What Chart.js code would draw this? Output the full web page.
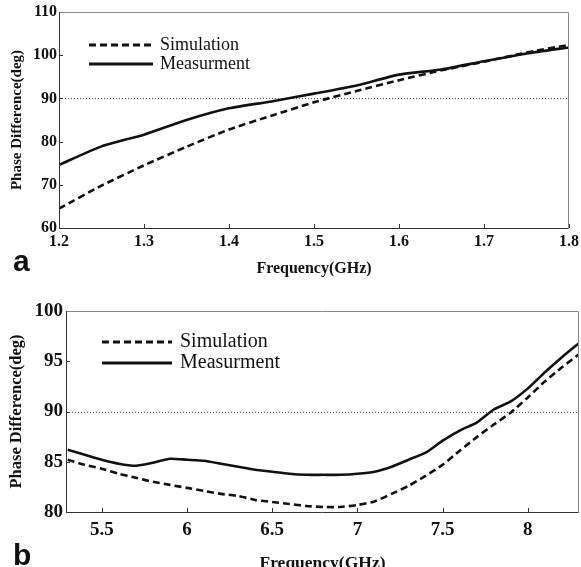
<!DOCTYPE html>
<html lang="en">
<head>
<meta charset="UTF-8">
<title>Phase Difference</title>
<script src="https://cdn.jsdelivr.net/npm/chart.js"></script>
<style>
    html, body { margin: 0; padding: 0; background: #fff; overflow: hidden; }
    .painel { position: absolute; left: 0; width: 581px; height: 290px; }
    .letra { position: absolute; font: bold 30px "Liberation Sans", Arial, sans-serif; line-height: 1; color: #111; }
</style>
</head>
<body>
<div class="painel" style="top:0"><canvas id="graficoA" width="581" height="290"></canvas></div>
<div class="painel" style="top:290px"><canvas id="graficoB" width="581" height="290"></canvas></div>
<div class="letra" style="left:13px;top:246px">a</div>
<div class="letra" style="left:13px;top:540px">b</div>
<script>
    // (a) banda 1.2 - 1.8 GHz
    const freqA = [1.2, 1.25, 1.3, 1.35, 1.4, 1.45, 1.5, 1.55, 1.6, 1.65, 1.7, 1.75, 1.8];
    const simA  = [64.5, 69.8, 74.5, 78.8, 82.8, 86.0, 89.1, 91.7, 94.2, 96.5, 98.5, 100.6, 102.4];
    const medA  = [74.6, 78.9, 81.6, 85.0, 87.7, 89.3, 91.1, 93.0, 95.5, 96.7, 98.6, 100.4, 101.8];
    const ticksXA = [1.2, 1.3, 1.4, 1.5, 1.6, 1.7, 1.8];
    const ticksYA = [60, 70, 80, 90, 100, 110];

    // (b) banda 5.3 - 8.3 GHz
    const freqB = [5.3, 5.4, 5.5, 5.6, 5.7, 5.8, 5.9, 6.0, 6.1, 6.2, 6.3, 6.4, 6.5, 6.6, 6.7, 6.8,
                   6.9, 7.0, 7.1, 7.2, 7.3, 7.4, 7.5, 7.6, 7.7, 7.8, 7.9, 8.0, 8.1, 8.2, 8.3];
    const simB  = [85.2, 84.7, 84.3, 83.8, 83.4, 83.0, 82.7, 82.4, 82.1, 81.8, 81.6, 81.2, 81.0, 80.8, 80.6, 80.5,
                   80.5, 80.7, 81.05, 81.8, 82.6, 83.6, 84.7, 86.1, 87.45, 88.7, 89.9, 91.4, 93.0, 94.4, 95.7];
    const medB  = [86.2, 85.7, 85.2, 84.8, 84.6, 84.9, 85.3, 85.2, 85.1, 84.8, 84.5, 84.2, 84.0, 83.8, 83.7, 83.7,
                   83.7, 83.8, 84.0, 84.5, 85.2, 85.9, 87.1, 88.1, 88.9, 90.2, 91.0, 92.3, 93.9, 95.4, 96.8];
    const ticksXB = [5.5, 6, 6.5, 7, 7.5, 8];
    const ticksYB = [80, 85, 90, 95, 100];

    const nomes = ['Simulation', 'Measurment'];
    const linhaRef = 90;

    const SERIF = '"Liberation Serif", "Times New Roman", serif';

    function pontos(xs, ys) {
        return xs.map((x, i) => ({ x: x, y: ys[i] }));
    }

    // moldura, linha pontilhada em 90, ticks internos e legenda
    const molduraPlugin = {
        id: 'moldura',
        beforeDatasetsDraw(chart, args, o) {
            const { ctx, chartArea: a, scales } = chart;
            ctx.save();
            const y = Math.round(scales.y.getPixelForValue(o.ref)) + 0.5;
            ctx.strokeStyle = '#555';
            ctx.lineWidth = 1;
            ctx.setLineDash([1, 2]);
            ctx.beginPath();
            ctx.moveTo(a.left, y);
            ctx.lineTo(a.right, y);
            ctx.stroke();
            ctx.setLineDash([]);
            ctx.strokeStyle = '#333';
            ctx.beginPath();
            scales.x.ticks.forEach(t => {
                const x = Math.round(scales.x.getPixelForValue(t.value)) + 0.5;
                ctx.moveTo(x, a.bottom);
                ctx.lineTo(x, a.bottom - 4);
            });
            scales.y.ticks.forEach(t => {
                const yy = Math.round(scales.y.getPixelForValue(t.value)) + 0.5;
                ctx.moveTo(a.left, yy);
                ctx.lineTo(a.left + 4, yy);
            });
            ctx.stroke();
            ctx.restore();
        },
        afterDraw(chart, args, o) {
            const { ctx, chartArea: a } = chart;
            ctx.save();
            const l = Math.round(a.left) + 0.5, r = Math.round(a.right) - 0.5;
            const t = Math.round(a.top) + 0.5, b = Math.round(a.bottom) + 0.5;
            ctx.lineWidth = 1;
            ctx.strokeStyle = '#888';
            ctx.beginPath();
            ctx.moveTo(l, t); ctx.lineTo(r, t); ctx.lineTo(r, b);
            ctx.stroke();
            ctx.strokeStyle = '#333';
            ctx.beginPath();
            ctx.moveTo(l, t); ctx.lineTo(l, b); ctx.lineTo(r, b);
            ctx.stroke();

            // legenda
            ctx.font = o.legFont + 'px ' + SERIF;
            ctx.textBaseline = 'middle';
            ctx.fillStyle = '#111';
            chart.data.datasets.forEach((ds, i) => {
                const yy = o.legY[i];
                ctx.strokeStyle = ds.borderColor;
                ctx.lineWidth = 3;
                ctx.setLineDash(ds.borderDash || []);
                ctx.beginPath();
                ctx.moveTo(o.legX[0], yy);
                ctx.lineTo(o.legX[1], yy);
                ctx.stroke();
                ctx.setLineDash([]);
                ctx.fillText(ds.label, o.legX[2], yy);
            });
            ctx.restore();
        }
    };

    function criarGrafico(id, xs, sim, med, tx, ty, L) {
        new Chart(document.getElementById(id), {
            type: 'line',
            data: {
                datasets: [{
                    label: nomes[0],
                    data: pontos(xs, sim),
                    borderColor: '#111',
                    borderWidth: 2.6,
                    borderDash: [7, 4],
                    pointRadius: 0,
                    tension: 0.2
                }, {
                    label: nomes[1],
                    data: pontos(xs, med),
                    borderColor: '#111',
                    borderWidth: 2.6,
                    pointRadius: 0,
                    tension: 0.2
                }]
            },
            options: {
                responsive: false,
                animation: false,
                layout: { padding: { top: L.top, right: L.right, left: 0, bottom: 0 } },
                plugins: {
                    legend: { display: false },
                    tooltip: { enabled: false },
                    moldura: { ref: linhaRef, legX: L.legX, legY: L.legY, legFont: L.legFont }
                },
                scales: {
                    x: {
                        type: 'linear',
                        min: L.xMin,
                        max: L.xMax,
                        afterBuildTicks: ax => { ax.ticks = tx.map(v => ({ value: v })); },
                        afterFit: ax => {
                            ax.height = L.xH;
                            ax.paddingLeft = 0;
                            ax.paddingRight = 0;
                        },
                        grid: { display: false, drawTicks: false },
                        border: { display: false },
                        ticks: {
                            padding: L.xPad,
                            color: '#111',
                            maxRotation: 0,
                            autoSkip: false,
                            callback: v => L.fmt(v),
                            font: { family: SERIF, weight: 'bold', size: L.tickFont }
                        },
                        title: {
                            display: true,
                            text: 'Frequency(GHz)',
                            color: '#111',
                            font: { family: SERIF, weight: 'bold', size: L.titleFont },
                            padding: { top: 0, bottom: L.xTitlePad }
                        }
                    },
                    y: {
                        min: L.yMin,
                        max: L.yMax,
                        afterBuildTicks: ax => { ax.ticks = ty.map(v => ({ value: v })); },
                        afterFit: ax => { ax.width = L.yW; },
                        grid: { display: false, drawTicks: false },
                        border: { display: false },
                        ticks: {
                            padding: L.yPad,
                            color: '#111',
                            callback: v => String(v),
                            font: { family: SERIF, weight: 'bold', size: L.tickFont }
                        },
                        title: {
                            display: true,
                            text: 'Phase Difference(deg)',
                            color: '#111',
                            font: { family: SERIF, weight: 'bold', size: L.yTitleFont },
                            padding: { top: L.yTitlePad, bottom: 0 }
                        }
                    }
                }
            },
            plugins: [molduraPlugin]
        });
    }

    criarGrafico('graficoA', freqA, simA, medA, ticksXA, ticksYA, {
        top: 12, right: 12, xH: 62, yW: 59, xMin: 1.2, xMax: 1.8, yMin: 60, yMax: 110,
        xPad: 4, yPad: 2, tickFont: 16, titleFont: 16, yTitleFont: 15, xTitlePad: 12, yTitlePad: 8,
        fmt: v => v.toFixed(1),
        legX: [89, 153, 160], legY: [45, 64], legFont: 18
    });

    criarGrafico('graficoB', freqB, simB, medB, ticksXB, ticksYB, {
        top: 21, right: 2, xH: 68, yW: 66, xMin: 5.29, xMax: 8.3, yMin: 80, yMax: 100,
        xPad: 7, yPad: 3, tickFont: 19, titleFont: 17.5, yTitleFont: 16.5, xTitlePad: 6, yTitlePad: 7,
        fmt: v => String(v),
        legX: [102, 172, 180], legY: [52, 73], legFont: 20
    });
</script>
</body>
</html>
